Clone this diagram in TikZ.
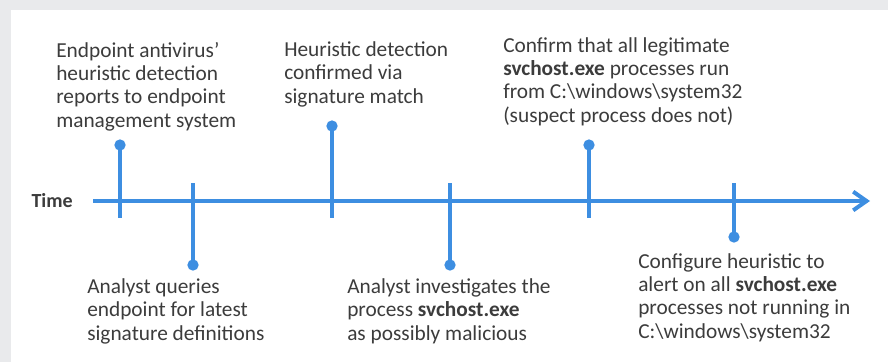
\documentclass[tikz,border=0pt]{standalone}
\usepackage{fontspec}
\setmainfont{Carlito}
\usetikzlibrary{arrows.meta,positioning}

\definecolor{tlblue}{RGB}{61,142,225}
\definecolor{txtgrey}{RGB}{60,60,60}
\definecolor{pagegrey}{RGB}{233,234,236}

\begin{document}
\begin{tikzpicture}[x=0.75pt,y=-0.75pt,
    dot/.style={circle,fill=tlblue,inner sep=0pt,minimum size=8.5pt},
    stem/.style={draw=tlblue,line width=3pt},
    axis/.style={draw=tlblue,line width=3pt,-{Straight Barb[length=10pt,width=14pt,line width=3pt]}},
    note/.style={text=txtgrey,align=left,inner sep=0pt,anchor=base west,
        font=\fontsize{16}{17.3}\selectfont}]

  % page and panel
  \fill[pagegrey] (0,0) rectangle (888,362);
  \fill[white] (11,10) rectangle (888,362);
  \useasboundingbox (0,0) rectangle (888,362);

  % time axis
  \node[text=txtgrey,anchor=east,inner sep=0pt,font=\fontsize{15}{17}\selectfont\bfseries] (time) at (73,201) {Time};
  \coordinate (t0) at (93,201);
  \coordinate (t1) at (870,201);
  \draw[axis] (t0) -- (t1);

  % events
  \node[dot] (p1) at (120,145) {};
  \node[dot] (p2) at (193,265) {};
  \node[dot] (p3) at (332,126) {};
  \node[dot] (p4) at (450,265) {};
  \node[dot] (p5) at (589,145) {};
  \node[dot] (p6) at (734,237) {};

  \coordinate (q1) at (120,218);
  \coordinate (q2) at (193,183);
  \coordinate (q3) at (332,218);
  \coordinate (q4) at (450,183);
  \coordinate (q5) at (589,218);
  \coordinate (q6) at (734,183);

  \draw[stem] (p1.center) -- (q1);
  \draw[stem] (q2) -- (p2.center);
  \draw[stem] (p3.center) -- (q3);
  \draw[stem] (q4) -- (p4.center);
  \draw[stem] (p5.center) -- (q5);
  \draw[stem] (q6) -- (p6.center);

  % labels (anchored at the baseline of their last line)
  \node[note] (e1) at (56,127) {Endpoint antivirus'\\heuristic detection\\reports to endpoint\\management system};
  \node[note] (e3) at (284,103) {Heuristic detection\\confirmed via\\signature match};
  \node[note] (e5) at (503,122) {Confirm that all legitimate\\\textbf{svchost.exe} processes run\\from C:\textbackslash windows\textbackslash system32\\(suspect process does not)};
  \node[note] (e2) at (87,340) {Analyst queries\\endpoint for latest\\signature definitions};
  \node[note] (e4) at (347,340) {Analyst investigates the\\process \textbf{svchost.exe}\\as possibly malicious};
  \node[note] (e6) at (638,338) {Configure heuristic to\\alert on all \textbf{svchost.exe}\\processes not running in\\C:\textbackslash windows\textbackslash system32};

\end{tikzpicture}
\end{document}
